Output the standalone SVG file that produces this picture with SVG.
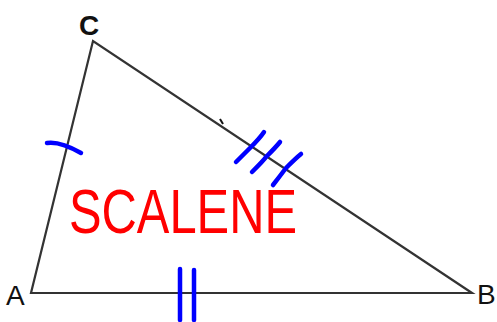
<svg xmlns="http://www.w3.org/2000/svg" width="497" height="322" viewBox="0 0 497 322">
<style>
.side{fill:none;stroke:#333;stroke-width:2.2;stroke-linejoin:miter}
.mark{fill:none;stroke:#0000ff;stroke-width:4.5;stroke-linecap:round;stroke-linejoin:round}
.lbl{font-family:"Liberation Sans",Arial,sans-serif;font-size:28px;fill:#111}
</style>
<rect width="497" height="322" fill="#fff"/>
<g id="connectors">
<path class="side" d="M93,41 L31,293 L472,293 Z"/>
<path d="M220,119 L223,124" stroke="#111" stroke-width="2" fill="none"/>
</g>
<g id="vertex-A"><text class="lbl" x="6" y="305">A</text></g>
<g id="vertex-B"><text class="lbl" x="477" y="304">B</text></g>
<g id="vertex-C"><text class="lbl" x="79" y="35" font-size="30" font-weight="bold">C</text></g>
<g id="marks">
<path class="mark" d="M47,143 Q60,141 81,153"/>
<path class="mark" d="M236,162 C244,154 248,150 250,148 C256,142 260,138 264,132"/>
<path class="mark" d="M252,172 C260,164 264,160 266,157 C272,151 276,147 280,142"/>
<path class="mark" d="M273,185 C280,176 283,172 286,168 C292,162 296,158 301,154"/>
<path class="mark" d="M180,269 L180,320"/>
<path class="mark" d="M194,270 L194,320"/>
</g>
<g id="title"><text x="69" y="233" font-family="'Liberation Sans',Arial,sans-serif" font-size="63" fill="#ff0000" textLength="228" lengthAdjust="spacingAndGlyphs">SCALENE</text></g>
</svg>
